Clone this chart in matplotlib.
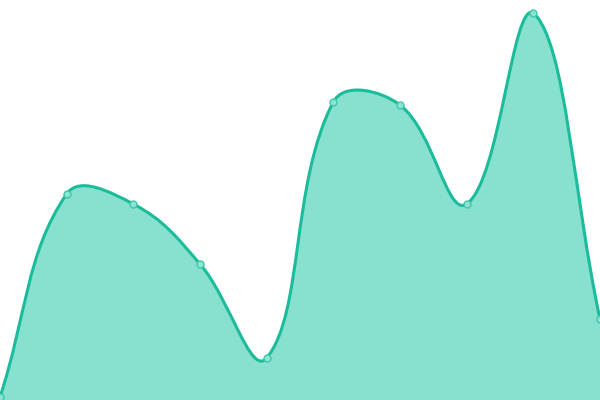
import numpy as np
import matplotlib
matplotlib.use('Agg')
import matplotlib.pyplot as plt
from matplotlib.path import Path
from matplotlib.patches import PathPatch

# values
categories = ['1', '2', '3', '4', '5', '6', '7', '8', '9', '10']
values = [3, 206, 196, 136, 42, 298, 295, 196, 387, 81]

lineColor = '#1abc9c'
areaColor = '#88e0ce'

def splineControls(pts, tension=0.4, box=None):
	# length weighted bezier control points, capped to the plot box
	n = len(pts)
	cps = []
	for i in range(n):
		p = pts[i]
		prev = pts[i - 1] if i > 0 else p
		nxt = pts[i + 1] if i < n - 1 else p
		d = nxt - prev
		d01 = np.hypot(*(p - prev))
		d12 = np.hypot(*(nxt - p))
		tot = d01 + d12
		s01 = d01 / tot if tot else 0
		s12 = d12 / tot if tot else 0
		cp0 = p - d * tension * s01
		cp1 = p + d * tension * s12
		if box is not None:
			cp0 = np.clip(cp0, box[0], box[1])
			cp1 = np.clip(cp1, box[0], box[1])
		cps.append((cp0, cp1))
	return cps

fig = plt.figure(figsize=(6, 4), dpi=100)
ax = fig.add_axes([0, 0, 1, 1])
ax.set_xlim(0, len(categories) - 1)
ax.set_ylim(0, 400)
ax.axis('off')

x = np.arange(len(categories))
data = np.column_stack([x, values]).astype(float)
disp = ax.transData.transform(data)
bb = ax.bbox
cps = splineControls(disp, 0.4, box=(np.array([bb.x0, bb.y0]), np.array([bb.x1, bb.y1])))

verts = [disp[0]]
codes = [Path.MOVETO]
for i in range(len(disp) - 1):
	verts += [cps[i][1], cps[i + 1][0], disp[i + 1]]
	codes += [Path.CURVE4] * 3
curve = ax.transData.inverted().transform(np.array(verts))

# area under the curve
areaVerts = list(curve) + [[x[-1], 0], [x[0], 0], curve[0]]
areaCodes = codes + [Path.LINETO, Path.LINETO, Path.CLOSEPOLY]
ax.add_patch(PathPatch(Path(areaVerts, areaCodes), facecolor=areaColor, edgecolor='none', zorder=1))
ax.add_patch(PathPatch(Path(curve, codes), facecolor='none', edgecolor=lineColor, lw=2.2, zorder=2))

ax.plot(x, values, 'o', ms=5, mfc='#8fe3d2', mec='#3cc9ad', mew=1, zorder=3, clip_on=False)

fig.savefig('out.png', dpi=100)
